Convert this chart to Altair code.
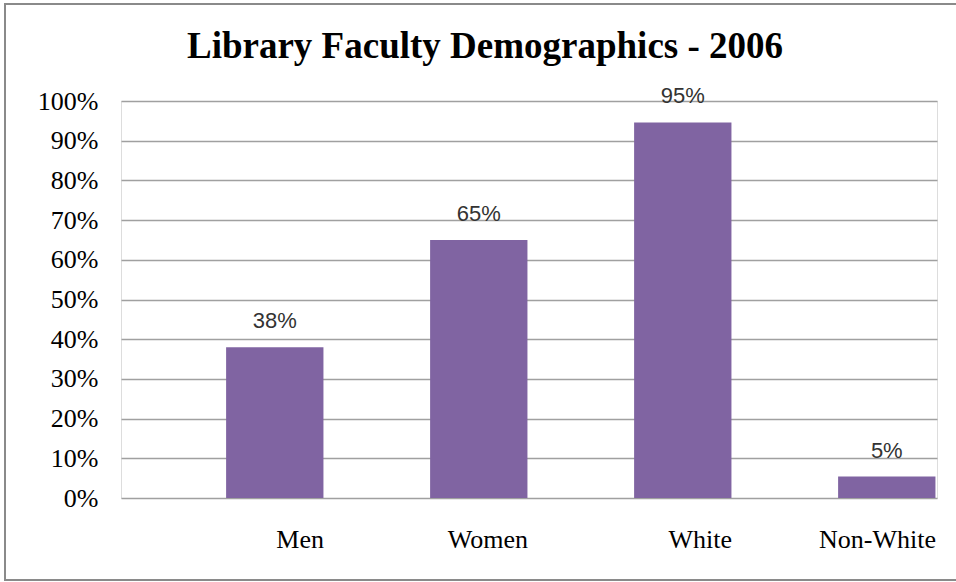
import altair as alt
import pandas as pd

categories = ["Men", "Women", "White", "Non-White"]
values = [0.38, 0.65, 0.946, 0.054]
y_ticks = [0.0, 0.1, 0.2, 0.3, 0.4, 0.5, 0.6, 0.7, 0.8, 0.9, 1.0]
title_text = "Library Faculty Demographics - 2006"

df = pd.DataFrame({"category": categories, "value": values, "slot": ["val"] * 4})

PLOT_W = 816
PLOT_H = 397

x_enc = alt.X("category:N", sort=categories, title=None,
              scale=alt.Scale(paddingInner=0, paddingOuter=0),
              axis=alt.Axis(labelFont="Liberation Serif", labelFontSize=26,
                            labelColor="#000000", labelAlign="right", labelOffset=101,
                            labelBaseline="alphabetic", labelPadding=49,
                            domain=False, ticks=False, grid=False, labelAngle=0))
xoff_enc = alt.XOffset("slot:N", scale=alt.Scale(domain=["pad", "val"],
                                                  paddingInner=0.06, paddingOuter=0.015))
y_enc = alt.Y("value:Q", title=None,
              scale=alt.Scale(domain=[0, 1], nice=False),
              axis=alt.Axis(format=".0%", values=y_ticks,
                            labelFont="Liberation Serif", labelFontSize=26,
                            labelColor="#000000", labelPadding=23,
                            labelOverlap=False,
                            domain=False, ticks=False, grid=True,
                            gridColor="#a0a0a0", gridWidth=1.5))

base = alt.Chart(df)

bars = base.mark_bar(color="#8064A2").encode(x=x_enc, xOffset=xoff_enc, y=y_enc)

labels = base.mark_text(font="Liberation Sans", fontSize=22, color="#333333",
                        baseline="alphabetic", dy=-19).encode(
    x=x_enc,
    xOffset=xoff_enc,
    y=y_enc,
    text=alt.Text("value:Q", format=".0%"),
)

frame = alt.Chart(alt.Data(values=[{"a": 1}])).mark_rect(
    fill="transparent", stroke="#8a8a8a", strokeWidth=2, clip=False
).encode(x=alt.value(-116), x2=alt.value(850), y=alt.value(-97), y2=alt.value(479))

chart = alt.layer(bars, labels, frame).properties(
    width=PLOT_W, height=PLOT_H,
    title=alt.TitleParams(title_text, font="Liberation Serif", fontSize=37,
                          fontWeight="bold", color="#000000", anchor="middle",
                          frame="group", dx=-44, baseline="alphabetic", offset=-92),
    autosize=alt.AutoSizeParams(type="none"),
    padding={"left": 121, "top": 101, "right": 19, "bottom": 84},
).configure_view(stroke=None).configure(background="white")

chart.save("out.html", embed_options={"renderer": "svg", "actions": False})
